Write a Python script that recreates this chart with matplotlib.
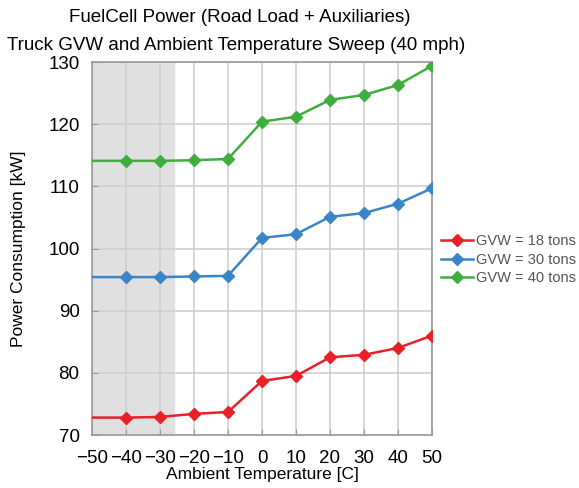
import matplotlib
matplotlib.use("Agg")
import matplotlib.pyplot as plt

plt.rcParams['font.family'] = ['Liberation Sans', 'DejaVu Sans']

temps = [-50, -40, -30, -20, -10, 0, 10, 20, 30, 40, 50]
gvw_18 = [72.8, 72.8, 72.9, 73.4, 73.7, 78.7, 79.5, 82.5, 82.9, 84.0, 86.0]
gvw_30 = [95.4, 95.4, 95.4, 95.5, 95.6, 101.7, 102.3, 105.1, 105.7, 107.2, 109.7]
gvw_40 = [114.1, 114.1, 114.1, 114.2, 114.4, 120.4, 121.2, 123.9, 124.7, 126.3, 129.4]
labels = ["GVW = 18 tons", "GVW = 30 tons", "GVW = 40 tons"]
colors = ["#e8202a", "#3a85c8", "#3fae3f"]
xtick_labels = ["\u221250", "\u221240", "\u221230", "\u221220", "\u221210",
                "0", "10", "20", "30", "40", "50"]

fig = plt.figure(figsize=(5.79, 4.88), dpi=100)
ax = fig.add_axes([92/579, 1 - 435/488, 340/579, 373/488])

# cold-weather band
ax.axvspan(-50, -26, color="#e0e0e0", zorder=0)

for ys, lab, c in zip([gvw_18, gvw_30, gvw_40], labels, colors):
    ax.plot(temps, ys, color=c, marker="D", markersize=6, linewidth=1.8,
            markevery=list(range(1, len(temps))), label=lab, zorder=3)

ax.set_xlim(-50, 50)
ax.set_ylim(70, 130)
ax.set_xticks(range(-50, 51, 10))
ax.set_yticks(range(70, 131, 10))
ax.set_xticklabels(xtick_labels)
ax.grid(True, color="#d0d0d0", linewidth=1.2, zorder=1)
ax.set_axisbelow(True)
ax.tick_params(direction="in", length=4, color="#999999", labelsize=13.5)
ax.tick_params(axis="y", pad=9)
ax.tick_params(axis="x", pad=11)
for s in ax.spines.values():
    s.set_color("#999999")
    s.set_linewidth(1.2)

ax.set_xlabel("Ambient Temperature [C]", fontsize=12.5, labelpad=0)
ax.set_ylabel("Power Consumption [kW]", fontsize=12.5)
ax.yaxis.set_label_coords(-0.195, 0.5)
fig.text(240/579, 1 - 18/488, "FuelCell Power (Road Load + Auxiliaries)",
         ha="center", va="center", fontsize=13.5)
fig.text(236/579, 1 - 45/488, "Truck GVW and Ambient Temperature Sweep (40 mph)",
         ha="center", va="center", fontsize=13.5)

leg = ax.legend(loc="center left", bbox_to_anchor=(1.0, 0.47), frameon=False, fontsize=10.5,
                handlelength=2.2, handletextpad=0.2, borderaxespad=0.2, labelspacing=0.3)
for t in leg.get_texts():
    t.set_color("#555555")

fig.savefig("out.png", dpi=100)
